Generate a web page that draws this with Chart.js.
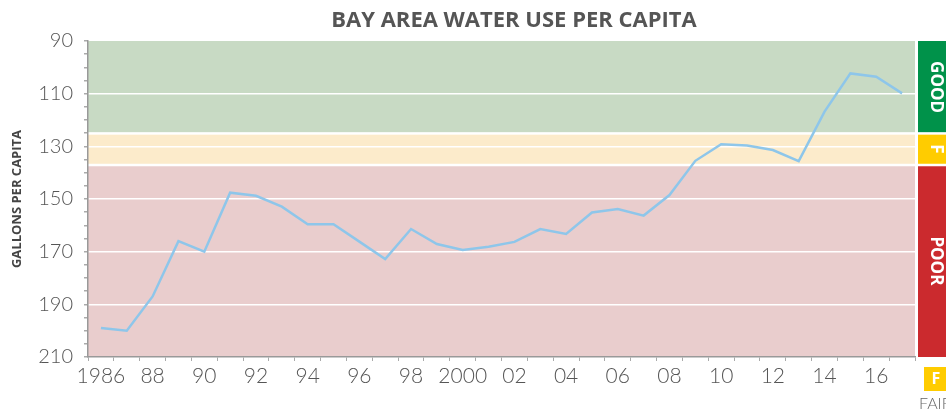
<!DOCTYPE html>
<html lang="en">

<head>
    <meta charset="UTF-8">
    <title>Bay Area Water Use Per Capita</title>
    <style>
        body {
            margin: 0;
            background: #fff;
        }

        .chart-container {
            width: 946px;
            height: 411px;
        }
    </style>
</head>

<body>
    <div class="chart-container">
        <canvas id="myChart"></canvas>
    </div>

    <script src="https://cdn.jsdelivr.net/npm/chart.js"></script>
    <script>
        // data
        const years = ['1986', '1987', '1988', '1989', '1990', '1991', '1992', '1993', '1994', '1995',
            '1996', '1997', '1998', '1999', '2000', '2001', '2002', '2003', '2004', '2005',
            '2006', '2007', '2008', '2009', '2010', '2011', '2012', '2013', '2014', '2015',
            '2016', '2017'];
        const gallonsPerCapita = [199, 200, 187, 166, 170, 147.6, 148.8, 152.9, 159.6, 159.6,
            166.2, 172.8, 161.4, 167.1, 169.4, 168.1, 166.3, 161.4, 163.3, 155.1,
            153.8, 156.3, 148.5, 135.5, 129.2, 129.7, 131.4, 135.6, 116.8, 102.3,
            103.6, 109.9];
        const yTickLabels = [90, 110, 130, 150, 170, 190, 210];
        // rating bands (gallons per capita)
        const bandNames = ['GOOD', 'F', 'POOR'];
        const bandFrom = [90, 125, 137];
        const bandTo = [125, 137, 210];

        const bandFill = ['#c8dac4', '#fcebcb', '#e9cdcd'];
        const bandSolid = ['#00924a', '#ffcc00', '#cb2a2e'];

        const ctx = document.getElementById('myChart').getContext('2d');

        // background bands + rating bar on the right + title
        const bandsPlugin = {
            id: 'bands',
            beforeDraw(chart) {
                const c = chart.ctx;
                const area = chart.chartArea;
                const y = chart.scales.y;
                c.save();
                for (let i = 0; i < bandNames.length; i++) {
                    const top = y.getPixelForValue(bandFrom[i]);
                    const bottom = y.getPixelForValue(bandTo[i]);
                    c.fillStyle = bandFill[i];
                    c.fillRect(area.left, top, area.right - area.left, bottom - top);
                    c.fillStyle = bandSolid[i];
                    c.fillRect(area.right + 3, top, 60, bottom - top);
                }
                // white gaps between bands
                c.fillStyle = '#fff';
                for (let i = 1; i < bandNames.length; i++) {
                    const py = y.getPixelForValue(bandFrom[i]);
                    c.fillRect(area.left, py - 1, chart.width - area.left, 2.5);
                }
                c.restore();
            },
            afterDraw(chart) {
                const c = chart.ctx;
                const area = chart.chartArea;
                const y = chart.scales.y;
                c.save();
                // rotated labels in the rating bar
                c.fillStyle = '#fff';
                c.font = 'bold 17px "Open Sans"';
                c.textAlign = 'center';
                c.textBaseline = 'middle';
                for (let i = 0; i < bandNames.length; i++) {
                    const mid = (y.getPixelForValue(bandFrom[i]) + y.getPixelForValue(bandTo[i])) / 2;
                    c.save();
                    c.translate(area.right + 21, mid);
                    c.rotate(Math.PI / 2);
                    c.fillText(bandNames[i], 0, 0);
                    c.restore();
                }
                // key for the small F band
                c.fillStyle = bandSolid[1];
                c.fillRect(area.right + 9, 367, 40, 24);
                c.fillStyle = '#fff';
                c.font = 'bold 16px "Open Sans"';
                c.fillText('F', area.right + 21, 379);
                c.fillStyle = '#666';
                c.font = '300 16px Lato';
                c.textAlign = 'left';
                c.fillText('FAIR', area.right + 4, 404);
                // title
                c.fillStyle = '#555';
                c.font = 'bold 22px "Open Sans"';
                c.textAlign = 'center';
                c.fillText('BAY AREA WATER USE PER CAPITA', 514, 21);
                c.restore();
            }
        };

        const myChart = new Chart(ctx, {
            type: 'line',
            data: {
                labels: years,
                datasets: [{
                    label: 'Gallons per capita',
                    data: gallonsPerCapita,
                    borderColor: '#8ec6ea',
                    borderWidth: 2.5,
                    pointRadius: 0,
                    tension: 0,
                    fill: false
                }]
            },
            options: {
                responsive: true,
                maintainAspectRatio: false,
                animation: false,
                layout: {
                    padding: { top: 41, right: 31, bottom: 0, left: 0 }
                },
                plugins: {
                    legend: { display: false },
                    tooltip: { enabled: false }
                },
                scales: {
                    x: {
                        type: 'category',
                        offset: true,
                        afterFit: s => { s.height = 54; },
                        border: { color: '#999', width: 1.5 },
                        grid: {
                            offset: true,
                            drawOnChartArea: false,
                            drawTicks: true,
                            tickLength: 4,
                            tickColor: '#aaa'
                        },
                        ticks: {
                            autoSkip: false,
                            maxRotation: 0,
                            padding: 3,
                            color: '#555',
                            font: { family: 'Lato', weight: '300', size: 21 },
                            callback: function (val, i) {
                                const yr = parseInt(years[i]);
                                if (yr % 2 !== 0) return '';
                                if (yr === 1986 || yr === 2000) return String(yr);
                                return String(yr).slice(2);
                            }
                        }
                    },
                    y: {
                        reverse: true,
                        min: 90,
                        max: 210,
                        afterFit: s => { s.width = 88; },
                        border: { color: '#999', width: 1.5 },
                        title: {
                            display: true,
                            text: 'GALLONS PER CAPITA',
                            color: '#444',
                            font: { family: 'Open Sans', weight: 'bold', size: 13 },
                            padding: { top: 9, bottom: 4 }
                        },
                        grid: {
                            color: c => (yTickLabels.includes(c.tick.value) && c.tick.value !== 90 && c.tick.value !== 210) ? '#fff' : 'rgba(0,0,0,0)',
                            lineWidth: 1.5,
                            tickLength: 4,
                            tickColor: '#aaa'
                        },
                        ticks: {
                            stepSize: 5,
                            autoSkip: false,
                            padding: 11,
                            color: '#555',
                            font: { family: 'Lato', weight: '300', size: 20 },
                            callback: v => yTickLabels.includes(v) ? String(v) : ''
                        }
                    }
                }
            },
            plugins: [bandsPlugin]
        });
    </script>
</body>

</html>
